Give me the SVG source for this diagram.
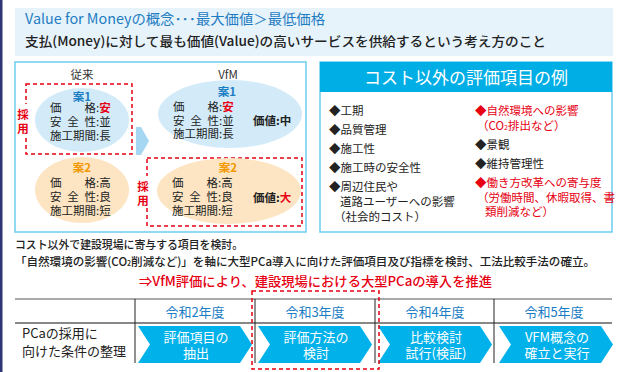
<svg xmlns="http://www.w3.org/2000/svg" width="617" height="372" viewBox="0 0 617 372">
<style>
text{font-family:"Noto Sans CJK JP","Noto Sans",sans-serif;fill:#222;}
.t11{font-size:11.5px;}
.t13{font-size:13px;}
.b{font-weight:bold;}
.red{fill:#e60012;}
.blue{fill:#1b7dc4;}
.org{fill:#f39800;}
.wht{fill:#ffffff;}
.c{text-anchor:middle;}
.dash{fill:none;stroke:#e60012;stroke-width:1.5;stroke-dasharray:4 3;}
.panel{fill:#ffffff;stroke:#6dcbf0;stroke-width:1.5;}
.ellB{fill:#d3ebf8;}
.ellO{fill:#fde5c3;}
.arr{fill:#a6d7f2;}
.chev{fill:#00b1ea;}
.tl{stroke:#222;stroke-width:1;}
</style>
<rect width="617" height="372" fill="#ffffff"/>
<rect x="0" y="0" width="2.5" height="372" fill="#2e3675"/>

<g id="header">
<rect x="15" y="8" width="598" height="48" fill="#e6f3fb"/>
<text x="25" y="24" font-size="14" style="fill:#1f7cc2" textLength="300" lengthAdjust="spacingAndGlyphs">Value for Moneyの概念･･･最大価値＞最低価格</text>
<text x="25" y="46" font-size="13" font-weight="500" textLength="521" lengthAdjust="spacingAndGlyphs">支払(Money)に対して最も価値(Value)の高いサービスを供給するという考え方のこと</text>
</g>

<g id="left-panel">
<rect class="panel" x="15" y="62" width="291" height="170"/>
<text class="t11 c" x="82" y="79" style="fill:#333">従来</text>
<text class="t11 c" x="228" y="79" style="fill:#333">VfM</text>
</g>

<g id="connectors">
<polygon class="arr" points="136,127 141,127 149,141 141,155 136,155"/>
<polygon class="arr" points="238,109 243,109 249,121 243,133 238,133"/>
<polygon class="arr" points="239,184 244,184 250,197 244,210 239,210"/>
</g>

<g id="plan1-old">
<rect class="dash" x="26" y="84" width="106" height="70"/>
<rect x="17" y="104" width="12" height="31" fill="#ffffff"/>
<text class="t11 b red c" x="23" y="119">採</text>
<text class="t11 b red c" x="23" y="133">用</text>
<ellipse class="ellB" cx="82" cy="120" rx="47" ry="32"/>
<text class="t11 b blue c" x="82" y="101">案1</text>
<text class="t11" x="50" y="112">価<tspan x="84.5">格:</tspan><tspan class="red b">安</tspan></text>
<text class="t11" x="50" y="126">安<tspan x="67.25">全</tspan><tspan x="84.5">性:並</tspan></text>
<text class="t11" x="50" y="140">施工期間:長</text>
</g>

<g id="plan2-old">
<ellipse class="ellO" cx="82" cy="190" rx="47" ry="33"/>
<text class="t11 b org c" x="82" y="172">案2</text>
<text class="t11" x="50" y="187">価<tspan x="84.5">格:高</tspan></text>
<text class="t11" x="50" y="201">安<tspan x="67.25">全</tspan><tspan x="84.5">性:良</tspan></text>
<text class="t11" x="50" y="215">施工期間:短</text>
</g>

<g id="plan1-vfm">
<ellipse class="ellB" cx="230" cy="114" rx="72" ry="34"/>
<text class="t11 b blue c" x="227" y="96">案1</text>
<text class="t11" x="173" y="111">価<tspan x="207.5">格:</tspan><tspan class="red b">安</tspan></text>
<text class="t11" x="173" y="124.5">安<tspan x="190.25">全</tspan><tspan x="207.5">性:並</tspan></text>
<text class="t11" x="173" y="138">施工期間:長</text>
<text class="t11 b" x="253" y="125">価値:中</text>
</g>

<g id="plan2-vfm">
<rect class="dash" x="147" y="158" width="155" height="68"/>
<rect x="137" y="176" width="13" height="31" fill="#ffffff"/>
<text class="t11 b red c" x="143" y="191">採</text>
<text class="t11 b red c" x="143" y="205">用</text>
<ellipse class="ellO" cx="229" cy="191" rx="72" ry="33"/>
<text class="t11 b org c" x="228" y="172">案2</text>
<text class="t11" x="172" y="187">価<tspan x="206.5">格:高</tspan></text>
<text class="t11" x="172" y="201">安<tspan x="189.25">全</tspan><tspan x="206.5">性:良</tspan></text>
<text class="t11" x="172" y="215">施工期間:短</text>
<text class="t11 b" x="253" y="202">価値:<tspan class="red">大</tspan></text>
</g>

<g id="eval-items">
<rect class="panel" x="320" y="62" width="292" height="170"/>
<rect x="320" y="62" width="292" height="30" fill="#00aee6"/>
<text class="wht c" x="466" y="84" font-size="17">コスト以外の評価項目の例</text>
<text class="t11" x="329" y="115">◆工期</text>
<text class="t11" x="329" y="134">◆品質管理</text>
<text class="t11" x="329" y="153">◆施工性</text>
<text class="t11" x="329" y="172">◆施工時の安全性</text>
<text class="t11" x="329" y="191">◆周辺住民や</text>
<text class="t11" x="340" y="206">道路ユーザーへの影響</text>
<text class="t11" x="334" y="221">（社会的コスト）</text>
<text class="t11 red" x="475" y="115">◆自然環境への影響</text>
<text class="t11 red" x="477" y="130">（CO<tspan font-size="7">2</tspan>排出など）</text>
<text class="t11" x="475" y="149">◆景観</text>
<text class="t11" x="475" y="168">◆維持管理性</text>
<text class="t11 red" x="475" y="187">◆働き方改革への寄与度</text>
<text class="t11 red" x="477" y="202">（労働時間、休暇取得、書</text>
<text class="t11 red" x="485" y="216">類削減など）</text>
</g>

<g id="summary">
<text class="t11" x="15" y="249" font-weight="500" textLength="228" lengthAdjust="spacingAndGlyphs">コスト以外で建設現場に寄与する項目を検討。</text>
<text class="t11" x="15" y="266" font-weight="500" textLength="580" lengthAdjust="spacingAndGlyphs">「自然環境の影響(CO<tspan font-size="7">2</tspan>削減など)」を軸に大型PCa導入に向けた評価項目及び指標を検討、工法比較手法の確立。</text>
<text class="t13 red" x="139" y="286" font-weight="500" textLength="353" lengthAdjust="spacingAndGlyphs">⇒VfM評価により、建設現場における大型PCaの導入を推進</text>
</g>

<g id="schedule">
<line x1="15" y1="299" x2="612" y2="299" stroke="#555" stroke-width="1.2"/>
<line x1="15" y1="323" x2="612" y2="323" stroke="#111" stroke-width="1.2"/>
<line class="tl" x1="135" y1="299" x2="135" y2="363"/>
<line class="tl" x1="255" y1="299" x2="255" y2="363"/>
<line class="tl" x1="375" y1="299" x2="375" y2="363"/>
<line class="tl" x1="494" y1="299" x2="494" y2="363"/>
<text class="t13 blue c" x="195" y="317">令和2年度</text>
<text class="t13 blue c" x="315" y="317">令和3年度</text>
<text class="t13 blue c" x="435" y="317">令和4年度</text>
<text class="t13 blue c" x="554" y="317">令和5年度</text>
<text class="t13" x="22" y="338">PCaの採用に</text>
<text class="t13" x="22" y="356">向けた条件の整理</text>
</g>

<g id="step1">
<polygon class="chev" points="138,326 240,326 252,344.5 240,363 138,363 150,344.5"/>
<text class="t13 wht c" x="196" y="342">評価項目の</text>
<text class="t13 wht c" x="196" y="358">抽出</text>
</g>
<g id="step2">
<polygon class="chev" points="258,326 360,326 372,344.5 360,363 258,363 270,344.5"/>
<text class="t13 wht c" x="316" y="342">評価方法の</text>
<text class="t13 wht c" x="316" y="358">検討</text>
</g>
<g id="step3">
<polygon class="chev" points="378,326 480,326 492,344.5 480,363 378,363 390,344.5"/>
<text class="t13 wht c" x="436" y="342">比較検討</text>
<text class="t13 wht c" x="436" y="358">試行(検証)</text>
</g>
<g id="step4">
<polygon class="chev" points="499,326 601,326 613,344.5 601,363 499,363 511,344.5"/>
<text class="t13 wht c" x="557" y="342">VFM概念の</text>
<text class="t13 wht c" x="557" y="358">確立と実行</text>
</g>
<rect class="dash" x="252" y="291" width="127" height="78"/>
</svg>
